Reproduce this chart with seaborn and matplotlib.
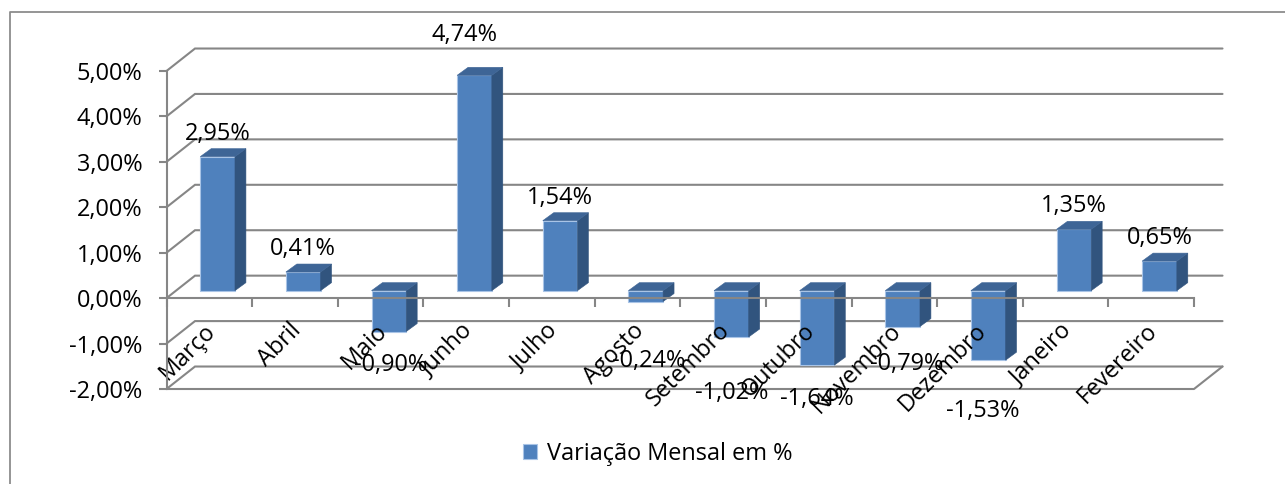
import matplotlib
matplotlib.use("Agg")
import matplotlib.pyplot as plt
from matplotlib.lines import Line2D
from matplotlib.patches import Polygon
from matplotlib.transforms import ScaledTranslation
import seaborn as sns
import pandas as pd

months = ["Março", "Abril", "Maio", "Junho", "Julho", "Agosto", "Setembro",
          "Outubro", "Novembro", "Dezembro", "Janeiro", "Fevereiro"]
variation = [2.95, 0.41, -0.90, 4.74, 1.54, -0.24, -1.02, -1.64, -0.79, -1.53, 1.35, 0.65]
y_ticks = [5, 4, 3, 2, 1, 0, -1, -2]
y_tick_labels = ["5,00%", "4,00%", "3,00%", "2,00%", "1,00%", "0,00%", "-1,00%", "-2,00%"]
series_name = "Variação Mensal em %"

# label placement relative to the bar end, in pixels (right, up)
label_nudges = [(0, 23), (0, 23), (2, -33), (-10, 40), (0, 23), (3, -59),
                (0, -56), (0, -34), (4, -37), (-5, -51), (0, 23), (0, 23)]

W, H = 1285, 484
GRID = "#868686"
FRONT, SIDE, TOP, EDGE = "#4F81BD", "#31547E", "#3E6596", "#A9C4E6"
FONT = "Open Sans"
FS = 16.9

sns.set_theme(style="white")
plt.rcParams["font.family"] = [FONT, "DejaVu Sans"]

fig = plt.figure(figsize=(W / 100, H / 100), dpi=100, facecolor="white")
L, R, T, B = 166.5, 1194, 71, 389
ax = fig.add_axes([L / W, 1 - B / H, (R - L) / W, (B - T) / H], facecolor="none")

df = pd.DataFrame({"mes": months, "var": variation})
sns.barplot(data=df, x="mes", y="var", color=FRONT, saturation=1, width=0.405,
            ax=ax, label=series_name, zorder=2, edgecolor=EDGE, linewidth=0.8)

ax.set_xlim(-0.5, 11.5)
ax.set_ylim(-2, 5)
ax.set_axisbelow(False)

# oblique projection expressed in data units
wall_dx, wall_dy = 0.333, 0.495      # back wall
plane_dx, plane_dy = 0.097, 0.165    # bar plane
depth_dx, depth_dy = 0.128, 0.176    # bar depth
lw = 1.5

# back wall gridlines and left wall diagonals
for v in y_ticks:
    ax.plot([-0.5, -0.5 + wall_dx, 11.5 + wall_dx], [v, v + wall_dy, v + wall_dy],
            color=GRID, lw=lw, clip_on=False, zorder=1, solid_joinstyle="miter")
# floor
ax.plot([-0.5, 11.5, 11.5 + wall_dx], [-2, -2, -2 + wall_dy],
        color=GRID, lw=lw, clip_on=False, zorder=1)

# shift the bars into their plane and add the 3D faces
for patch, v in zip(ax.patches, variation):
    x0 = patch.get_x() + plane_dx
    w = patch.get_width()
    patch.set_x(x0)
    patch.set_y(plane_dy)
    patch.set_clip_on(False)
    hi = plane_dy + max(v, 0)
    lo = plane_dy + min(v, 0)
    side = Polygon([(x0 + w, lo), (x0 + w + depth_dx, lo + depth_dy),
                    (x0 + w + depth_dx, hi + depth_dy), (x0 + w, hi)],
                   facecolor=SIDE, edgecolor=SIDE, lw=0.4, clip_on=False, zorder=2)
    top = Polygon([(x0, hi), (x0 + depth_dx, hi + depth_dy),
                   (x0 + w + depth_dx, hi + depth_dy), (x0 + w, hi)],
                  facecolor=TOP, edgecolor=TOP, lw=0.4, clip_on=False, zorder=2)
    ax.add_patch(side)
    ax.add_patch(top)

# value labels
for i, (patch, v) in enumerate(zip(ax.patches, variation)):
    anchor_y = plane_dy + v
    ax.annotate(f"{v:.2f}%".replace(".", ","),
                xy=(patch.get_x() + patch.get_width() / 2, anchor_y),
                xytext=label_nudges[i], textcoords="offset pixels",
                ha="center", va="center", fontsize=FS, color="black",
                zorder=5, annotation_clip=False)

# axes
for s in ("top", "right"):
    ax.spines[s].set_visible(False)
ax.spines["bottom"].set_position(("data", 0))
for s in ("left", "bottom"):
    ax.spines[s].set_color(GRID)
    ax.spines[s].set_linewidth(lw)
    ax.spines[s].set_zorder(3)

ax.set_xlabel("")
ax.set_ylabel("")
ax.set_yticks(y_ticks)
ax.set_yticklabels(y_tick_labels)
ax.tick_params(axis="y", left=True, length=5.8, width=lw, color=GRID, pad=11.5,
               labelsize=FS, labelcolor="black")
ax.set_xticks(range(len(months)))
ax.set_xticklabels(months, rotation=45, ha="right", va="center", rotation_mode="anchor")
ax.set_xticks([i - 0.5 for i in range(len(months) + 1)], minor=True)
ax.tick_params(axis="x", which="major", bottom=False, length=0, pad=21,
               labelsize=FS, labelcolor="black")
ax.tick_params(axis="x", which="minor", bottom=True, length=6.5, width=lw, color=GRID)
shift = ScaledTranslation(3 / 100, 0, fig.dpi_scale_trans)
for lab in ax.get_xticklabels():
    lab.set_transform(lab.get_transform() + shift)

# legend
handles, labels = ax.get_legend_handles_labels()
leg = ax.legend(handles, labels, loc="center", frameon=False, fontsize=FS,
                labelcolor="black",
                bbox_to_anchor=(658 / W, 1 - 454 / H), bbox_transform=fig.transFigure,
                handlelength=0.6, handleheight=0.6, handletextpad=0.42, borderpad=0)

# chart area border (left and top edges visible)
fig.add_artist(Line2D([10 / W, 10 / W, 1], [0, 1 - 12 / H, 1 - 12 / H],
                      color="#8C8C8C", lw=1.3, transform=fig.transFigure))

fig.savefig("out.png", dpi=100, facecolor="white")
